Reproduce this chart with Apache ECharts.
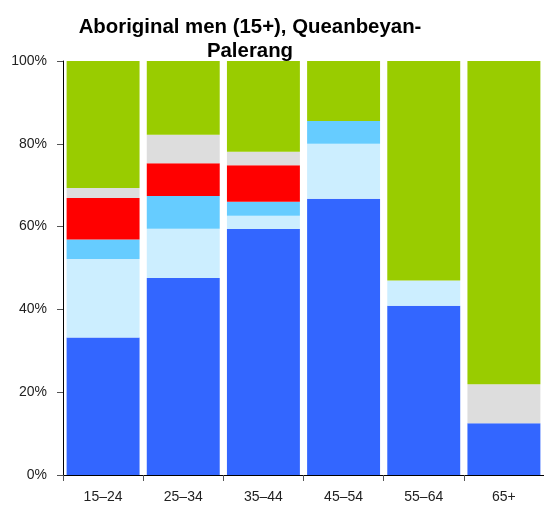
<!DOCTYPE html>
<html>
<head>
    <meta charset="utf-8">
    <title>Aboriginal men (15+), Queanbeyan-Palerang</title>
    <script src="https://cdn.jsdelivr.net/npm/echarts@6/dist/echarts.min.js"></script>
    <style>
        html, body { margin: 0; padding: 0; background: #fff; }
        #chart { width: 544px; height: 506px; }
    </style>
</head>
<body>
<div id="chart"></div>
<script type="text/javascript">
    // age groups
    const categories = ['15–24', '25–34', '35–44', '45–54', '55–64', '65+'];

    // shares (%) per segment, bottom to top
    const seg1 = [33.2, 47.6, 59.4, 66.7, 40.9, 12.5];
    const seg2 = [19.0, 11.9, 3.2, 13.3, 6.1, 0];
    const seg3 = [4.7, 7.9, 3.4, 5.5, 0, 0];
    const seg4 = [10.0, 7.9, 8.8, 0, 0, 0];
    const seg5 = [2.4, 6.9, 3.3, 0, 0, 9.4];
    const seg6 = [30.7, 17.8, 21.9, 14.5, 53.0, 78.1];

    const yTicks = [0, 20, 40, 60, 80, 100];

    const colors = ['#3366ff', '#cceeff', '#66ccff', '#ff0000', '#dddddd', '#99cc00'];

    let chart = echarts.init(document.getElementById('chart'));

    let series = [seg1, seg2, seg3, seg4, seg5, seg6].map(function (d, i) {
        return {
            type: 'bar',
            stack: 'all',
            data: d,
            barCategoryGap: '9%',
            itemStyle: { color: colors[i] }
        };
    });

    chart.setOption({
        animation: false,
        title: {
            text: 'Aboriginal men (15+), Queanbeyan-\nPalerang',
            left: 245,
            top: 10,
            textAlign: 'center',
            textStyle: {
                fontFamily: 'Liberation Sans',
                fontWeight: 'bold',
                fontSize: 20.4,
                lineHeight: 24,
                color: '#000'
            }
        },
        grid: { left: 63, top: 61, width: 482, bottom: 31 },
        xAxis: {
            type: 'category',
            data: categories,
            axisLine: { lineStyle: { color: '#000', width: 1 } },
            axisTick: { show: true, length: 6, lineStyle: { color: '#555' } },
            axisLabel: {
                fontFamily: 'Liberation Sans',
                fontSize: 14,
                color: '#222',
                margin: 15
            }
        },
        yAxis: {
            type: 'value',
            min: yTicks[0],
            max: yTicks[yTicks.length - 1],
            interval: 20,
            splitLine: { show: false },
            axisLine: { show: true, lineStyle: { color: '#000', width: 1 } },
            axisTick: { show: true, length: 6, lineStyle: { color: '#555' } },
            axisLabel: {
                formatter: '{value}%',
                fontFamily: 'Liberation Sans',
                fontSize: 14,
                color: '#222',
                margin: 16
            }
        },
        series: series
    });
</script>
</body>
</html>
